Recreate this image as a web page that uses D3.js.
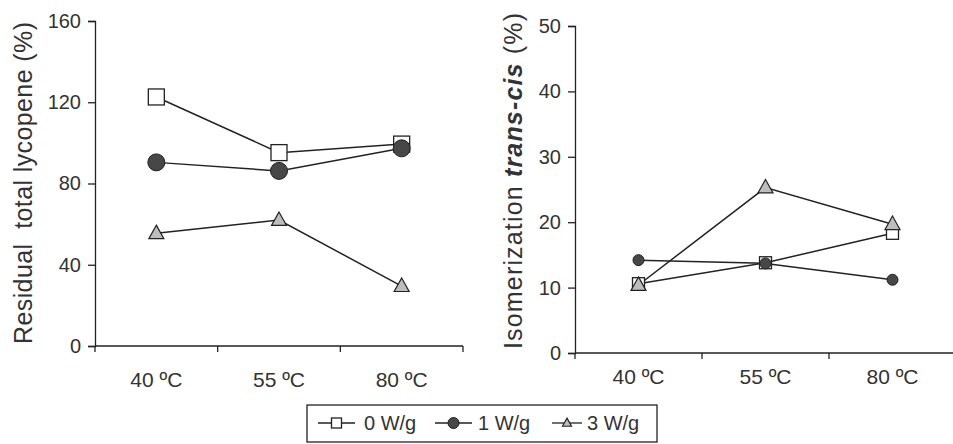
<!DOCTYPE html>
<html>
<head>
<meta charset="utf-8">
<script src="https://cdn.jsdelivr.net/npm/d3@7"></script>
<style>
  body { margin: 0; background: #fff; }
  svg text { font-family: "Liberation Sans", Arial, sans-serif; fill: #333; }
</style>
</head>
<body>
<div id="chart"></div>
<script>
// data
var temps = ["40 \u00baC", "55 \u00baC", "80 \u00baC"];
var seriesNames = ["0 W/g", "1 W/g", "3 W/g"];

// residual total lycopene (%)
var lyc0 = [122.6, 95.2, 99.4];
var lyc1 = [90.4, 86.2, 97.3];
var lyc3 = [55.5, 62.0, 29.5];
var lycTicks = [0, 40, 80, 120, 160];

// isomerization trans-cis (%)
var iso0 = [10.6, 13.8, 18.3];
var iso1 = [14.2, 13.7, 11.2];
var iso3 = [10.4, 25.3, 19.7];
var isoTicks = [0, 10, 20, 30, 40, 50];

var W = 953, H = 444;
var svg = d3.select("#chart").append("svg")
    .attr("width", W)
    .attr("height", H);

var markerStyle = [
  {shape: "square", fill: "#fff"},
  {shape: "circle", fill: "#474747"},
  {shape: "triangle", fill: "#bdbdbd"}
];

function drawMarker(g, kind, x, y, s) {
  if (kind.shape == "square") {
    g.append("rect")
      .attr("x", x - s/2).attr("y", y - s/2)
      .attr("width", s).attr("height", s)
      .attr("fill", kind.fill).attr("stroke", "#222").attr("stroke-width", 1.3);
  } else if (kind.shape == "circle") {
    g.append("circle")
      .attr("cx", x).attr("cy", y).attr("r", s/2)
      .attr("fill", kind.fill).attr("stroke", "#222").attr("stroke-width", 1);
  } else {
    var h = s * 0.9;
    g.append("path")
      .attr("d", "M" + x + "," + (y - h*0.6) + "L" + (x + s/2) + "," + (y + h*0.4) + "L" + (x - s/2) + "," + (y + h*0.4) + "Z")
      .attr("fill", kind.fill).attr("stroke", "#222").attr("stroke-width", 1.2);
  }
}

function panel(opt) {
  var g = svg.append("g");

  var x = d3.scaleBand().domain(temps).range([opt.x0, opt.x1]);
  var y = d3.scaleLinear().domain([0, opt.ymax]).range([opt.y0, opt.y1]);

  // y axis
  var ya = g.append("g")
      .attr("transform", "translate(" + opt.x0 + ",0)")
      .call(d3.axisLeft(y).tickValues(opt.ticks).tickSize(7).tickPadding(7));
  ya.select(".domain").attr("stroke", "#222").attr("stroke-width", 1.3);
  ya.selectAll(".tick line").attr("stroke", "#222").attr("stroke-width", 1.3);
  ya.selectAll("text").style("font-size", "20px").attr("fill", "#333");

  // x axis, ticks on band edges
  var edges = temps.map(function(t) { return x(t); }).concat([opt.x1]);
  var xa = g.append("g").attr("transform", "translate(0," + opt.y0 + ")");
  xa.append("line")
    .attr("x1", opt.x0).attr("x2", opt.x1)
    .attr("stroke", "#222").attr("stroke-width", 1.3);
  xa.selectAll(".edge").data(edges).enter().append("line")
    .attr("x1", function(d) { return d; }).attr("x2", function(d) { return d; })
    .attr("y1", 0).attr("y2", 6)
    .attr("stroke", "#222").attr("stroke-width", 1.3);
  xa.selectAll(".lbl").data(temps).enter().append("text")
    .attr("x", function(d) { return x(d) + x.bandwidth()/2; })
    .attr("y", opt.lblY)
    .attr("text-anchor", "middle")
    .style("font-size", "21px")
    .text(function(d) { return d; });

  var line = d3.line()
    .x(function(d, i) { return x(temps[i]) + x.bandwidth()/2; })
    .y(function(d) { return y(d); });

  opt.series.forEach(function(vals, k) {
    g.append("path").datum(vals)
      .attr("d", line)
      .attr("fill", "none").attr("stroke", "#222").attr("stroke-width", 1.5);
  });
  opt.series.forEach(function(vals, k) {
    vals.forEach(function(v, i) {
      drawMarker(g, markerStyle[k], x(temps[i]) + x.bandwidth()/2, y(v), opt.msize[k]);
    });
  });

  return g;
}

panel({x0: 95, x1: 463, y0: 346, y1: 21, ymax: 160, ticks: lycTicks, lblY: 41,
       series: [lyc0, lyc1, lyc3], msize: [16, 17, 15]});
panel({x0: 575, x1: 956, y0: 353, y1: 26, ymax: 50, ticks: isoTicks, lblY: 31,
       series: [iso0, iso1, iso3], msize: [12, 11, 15]});

// axis titles
svg.append("text")
  .attr("transform", "translate(32,183) rotate(-90)")
  .attr("text-anchor", "middle")
  .attr("textLength", 322)
  .style("font-size", "25px")
  .style("white-space", "pre")
  .text("Residual  total lycopene (%)");

var t2 = svg.append("text")
  .attr("transform", "translate(522,181) rotate(-90)")
  .attr("text-anchor", "middle")
  .attr("textLength", 336)
  .style("font-size", "25px");
t2.append("tspan").text("Isomerization ");
t2.append("tspan").style("font-style", "italic").style("font-weight", "bold").text("trans-cis");
t2.append("tspan").text(" (%)");

// legend
var lg = svg.append("g");
lg.append("rect")
  .attr("x", 307).attr("y", 405).attr("width", 350).attr("height", 37)
  .attr("fill", "#fff").attr("stroke", "#222").attr("stroke-width", 1.3);
var legLine = [[318, 355], [435, 472], [552, 582]];
var legText = [364, 478, 587];
var legSize = [10, 11, 9];
seriesNames.forEach(function(name, k) {
  var ly = 423;
  var a = legLine[k][0], b = legLine[k][1];
  lg.append("line")
    .attr("x1", a).attr("x2", b).attr("y1", ly).attr("y2", ly)
    .attr("stroke", "#222").attr("stroke-width", 1.3);
  drawMarker(lg, markerStyle[k], (a + b) / 2, ly, legSize[k]);
  lg.append("text")
    .attr("x", legText[k]).attr("y", ly + 7)
    .style("font-size", "20px")
    .text(name);
});
</script>
</body>
</html>
